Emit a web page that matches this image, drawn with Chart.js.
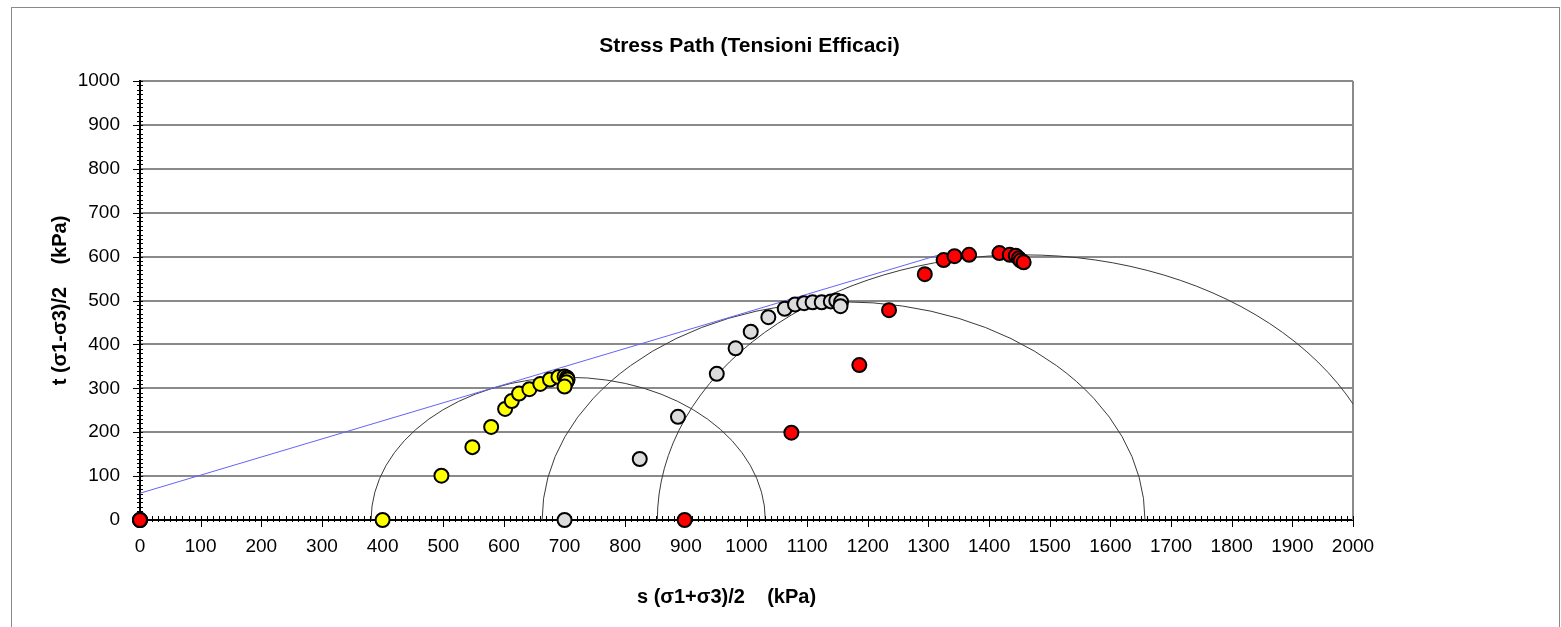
<!DOCTYPE html>
<html>
<head>
<meta charset="utf-8">
<title>Stress Path (Tensioni Efficaci)</title>
<script src="https://cdn.jsdelivr.net/npm/chart.js@4/dist/chart.umd.min.js"></script>
<style>
  html, body { margin: 0; padding: 0; background: #fff; }
  #wrap { width: 1561px; height: 627px; position: relative; }
</style>
</head>
<body>
<div id="wrap"><canvas id="stressChart" width="1561" height="627"></canvas></div>
<script>
// ===== Data =====
const yellowS = [0, 400, 497, 548, 579, 602, 613, 625, 642, 660, 676, 690, 700, 704, 705, 703, 700];
const yellowT = [0, 0, 101, 166, 212, 253, 271, 288, 298, 310, 320, 326, 327, 324, 320, 314, 304];

const grayS = [0, 700, 824, 887, 951, 982, 1007, 1036, 1063, 1080, 1095, 1109, 1124, 1139, 1148, 1156, 1155];
const grayT = [0, 0, 139, 235, 333, 391, 429, 462, 481, 491, 494, 496, 496, 498, 500, 497, 487];

const redS = [0, 898, 1074, 1186, 1235, 1294, 1325, 1343, 1367, 1417, 1434, 1444, 1449, 1452, 1457];
const redT = [0, 0, 199, 353, 478, 560, 592, 601, 604, 608, 604, 602, 596, 591, 587];

// failure envelope (two end points)
const envelopeS = [0, 1325];
const envelopeT = [61, 607];

// Mohr circles: centre on the s axis and radius
const circleCentres = [706, 1160, 1457];
const circleRadii = [325, 497, 604];

// axis ranges / ticks
const xTicks = { min: 0, max: 2000, major: 100, minor: 10 };
const yTicks = { min: 0, max: 1000, major: 100, minor: 10 };

const FONT = "'Liberation Sans', Arial, sans-serif";
const CHART_TITLE = 'Stress Path (Tensioni Efficaci)';
const X_TITLE = 's (\u03c31+\u03c33)/2    (kPa)';
const Y_TITLE = 't (\u03c31-\u03c33)/2    (kPa)';

function toPoints(xs, ys) {
  return xs.map((x, i) => ({ x: x, y: ys[i] }));
}

// ===== Plugins =====
const frameBorder = {
  id: 'frameBorder',
  beforeDraw(chart) {
    const ctx = chart.ctx;
    ctx.save();
    ctx.fillStyle = '#fff';
    ctx.fillRect(0, 0, chart.width, chart.height);
    ctx.strokeStyle = '#8a8a8a';
    ctx.lineWidth = 1;
    ctx.strokeRect(11.5, 7.5, 1548, 700);
    ctx.restore();
  }
};

const mohrCircles = {
  id: 'mohrCircles',
  beforeDatasetsDraw(chart) {
    const { ctx, chartArea: area, scales: { x, y } } = chart;
    ctx.save();

    // right border of the plot
    ctx.strokeStyle = '#8a8a8a';
    ctx.lineWidth = 2;
    ctx.beginPath();
    ctx.moveTo(area.right, area.top);
    ctx.lineTo(area.right, area.bottom);
    ctx.stroke();

    // circles, clipped to the plot
    ctx.beginPath();
    ctx.rect(area.left, area.top, area.right - area.left, area.bottom - area.top);
    ctx.clip();
    ctx.strokeStyle = '#3a3a3a';
    ctx.lineWidth = 1;
    circleCentres.forEach((c, i) => {
      const r = circleRadii[i];
      const cx = x.getPixelForValue(c);
      const cy = y.getPixelForValue(0);
      const rx = x.getPixelForValue(c + r) - cx;
      const ry = cy - y.getPixelForValue(r);
      ctx.beginPath();
      ctx.ellipse(cx, cy, rx, ry, 0, Math.PI, 2 * Math.PI);
      ctx.stroke();
    });
    ctx.restore();

    // axis tick marks (minor + major)
    ctx.save();
    ctx.strokeStyle = '#000';
    ctx.lineWidth = 1;
    ctx.beginPath();
    const y0 = y.getPixelForValue(0);
    for (let v = xTicks.min; v <= xTicks.max; v += xTicks.minor) {
      const px = Math.round(x.getPixelForValue(v)) + 0.5;
      const isMajor = v % xTicks.major === 0;
      ctx.moveTo(px, y0 - 4);
      ctx.lineTo(px, y0 + (isMajor ? 7 : 2));
    }
    const x0 = x.getPixelForValue(0);
    for (let v = yTicks.min; v <= yTicks.max; v += yTicks.minor) {
      const py = Math.round(y.getPixelForValue(v)) + 0.5;
      const isMajor = v % yTicks.major === 0;
      ctx.moveTo(x0 - (isMajor ? 7 : 3), py);
      ctx.lineTo(x0 + 3, py);
    }
    ctx.stroke();
    ctx.restore();
  },
  afterDraw(chart) {
    // chart title and x axis title
    const { ctx, chartArea: area } = chart;
    const mid = (area.left + area.right) / 2;
    ctx.save();
    ctx.fillStyle = '#000';
    ctx.textAlign = 'center';
    ctx.textBaseline = 'middle';
    ctx.font = 'bold 21px ' + FONT;
    ctx.fillText(CHART_TITLE, mid + 3, 46);
    ctx.font = 'bold 20px ' + FONT;
    ctx.fillText(X_TITLE, mid - 20, 597);
    ctx.restore();
  }
};

// ===== Chart =====
const pointStyle = {
  showLine: false,
  pointRadius: 7,
  pointHoverRadius: 7,
  pointBorderWidth: 2,
  pointBorderColor: '#000',
  clip: false
};

const plainNumber = value => String(value);

new Chart(document.getElementById('stressChart'), {
  type: 'scatter',
  data: {
    datasets: [
      Object.assign({ label: 'Provino 1', data: toPoints(yellowS, yellowT), pointBackgroundColor: '#ffff00', order: 3 }, pointStyle),
      Object.assign({ label: 'Provino 2', data: toPoints(grayS, grayT), pointBackgroundColor: '#dcdcdc', order: 2 }, pointStyle),
      Object.assign({ label: 'Provino 3', data: toPoints(redS, redT), pointBackgroundColor: '#ff0000', order: 1 }, pointStyle),
      {
        label: 'Inviluppo',
        data: toPoints(envelopeS, envelopeT),
        showLine: true,
        borderColor: '#6464f8',
        borderWidth: 1,
        pointRadius: 0,
        order: 4
      }
    ]
  },
  options: {
    responsive: false,
    animation: false,
    events: [],
    layout: { padding: { left: 0, right: 208, top: 81, bottom: 0 } },
    plugins: {
      legend: { display: false },
      tooltip: { enabled: false },
      title: { display: false }
    },
    scales: {
      x: {
        type: 'linear',
        min: xTicks.min,
        max: xTicks.max,
        afterFit(scale) { scale.height = 107; },
        ticks: {
          stepSize: xTicks.major,
          autoSkip: false,
          maxRotation: 0,
          padding: 15,
          color: '#000',
          font: { family: FONT, size: 19 },
          callback: plainNumber
        },
        grid: { display: false, drawTicks: false },
        border: { display: true, color: '#000', width: 2 }
      },
      y: {
        type: 'linear',
        min: yTicks.min,
        max: yTicks.max,
        afterFit(scale) { scale.width = 140; },
        ticks: {
          stepSize: yTicks.major,
          padding: 20,
          color: '#000',
          font: { family: FONT, size: 19 },
          callback: plainNumber
        },
        grid: { color: '#8a8a8a', lineWidth: 2, drawTicks: false },
        border: { display: true, color: '#000', width: 2 },
        title: {
          display: true,
          text: Y_TITLE,
          color: '#000',
          font: { family: FONT, size: 20, weight: 'bold' },
          padding: { top: 48, bottom: 0 }
        }
      }
    }
  },
  plugins: [frameBorder, mohrCircles]
});
</script>
</body>
</html>
